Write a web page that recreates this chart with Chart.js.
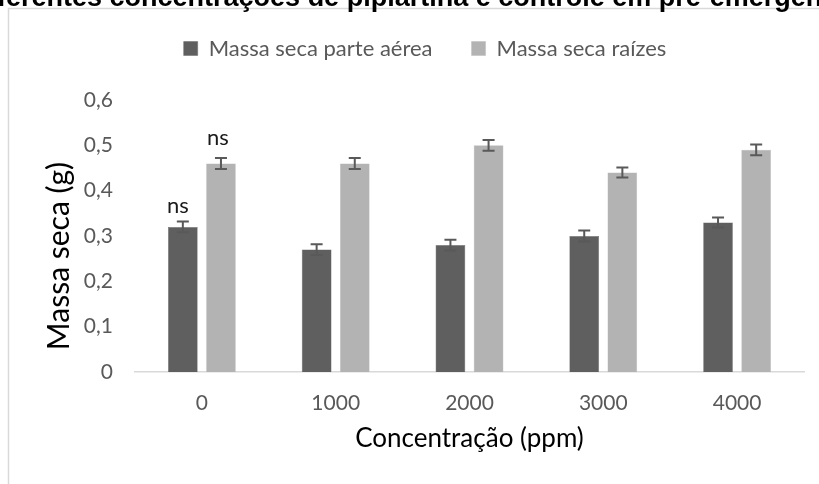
<!DOCTYPE html>
<html>
<head>
<meta charset="utf-8">
<script src="https://cdn.jsdelivr.net/npm/chart.js@4.4.1/dist/chart.umd.min.js"></script>
<style>
  html, body { margin: 0; padding: 0; background: #ffffff; }
  #wrap { width: 819px; height: 484px; position: relative; }
</style>
</head>
<body>
<div id="wrap"><canvas id="chart" width="819" height="484"></canvas></div>
<script>
// Concentrations of piplartine (ppm)
const categories = ['0', '1000', '2000', '3000', '4000'];

// Dry mass (g) of shoots and roots, with standard error
const shootMass = [0.32, 0.27, 0.28, 0.30, 0.33];
const rootMass  = [0.46, 0.46, 0.50, 0.44, 0.49];
const shootErr  = [0.012, 0.012, 0.012, 0.012, 0.011];
const rootErr   = [0.012, 0.012, 0.012, 0.011, 0.012];

// Significance marks above the bars
const shootSig = ['ns', '', '', '', ''];
const rootSig  = ['ns', '', '', '', ''];

const yTickLabels = ['0', '0,1', '0,2', '0,3', '0,4', '0,5', '0,6'];

const seriesNames = ['Massa seca parte aérea', 'Massa seca raízes'];
const chartTitle = 'Massa seca em diferentes concentrações de piplartina e controle em pré-emergência';

const FONT = 'Lato, "Open Sans", sans-serif';
const GREY_TEXT = '#595959';

// Outer frame and the chart title sitting at the very top edge
const framePlugin = {
  id: 'frame',
  beforeDraw(chart) {
    const ctx = chart.ctx;
    ctx.save();
    ctx.fillStyle = '#ffffff';
    ctx.fillRect(0, 0, chart.width, chart.height);
    ctx.strokeStyle = '#d9d9d9';
    ctx.lineWidth = 1.5;
    ctx.beginPath();
    ctx.moveTo(8.5, chart.height);
    ctx.lineTo(8.5, 8.5);
    ctx.lineTo(chart.width, 8.5);
    ctx.stroke();

    ctx.font = 'bold 27px "Liberation Sans", Arial, sans-serif';
    ctx.fillStyle = '#000000';
    ctx.textBaseline = 'alphabetic';
    ctx.textAlign = 'left';
    const lead = ctx.measureText('Massa seca em di').width;
    ctx.fillText(chartTitle, -3 - lead, 6);
    ctx.restore();
  }
};

// Vertical axis title, drawn beside the tick labels
const yTitlePlugin = {
  id: 'yTitle',
  afterDraw(chart) {
    const ctx = chart.ctx;
    const area = chart.chartArea;
    ctx.save();
    ctx.translate(59, (area.top + area.bottom) / 2 + 20);
    ctx.rotate(-Math.PI / 2);
    ctx.font = '30px ' + FONT;
    ctx.fillStyle = '#000000';
    ctx.textAlign = 'center';
    ctx.textBaseline = 'middle';
    ctx.fillText('Massa seca (g)', 0, 0);
    ctx.restore();
  }
};

// Error bars and significance labels for each bar
const errorPlugin = {
  id: 'errorBars',
  afterDatasetsDraw(chart) {
    const ctx = chart.ctx;
    const y = chart.scales.y;
    const errs = [shootErr, rootErr];
    const sigs = [shootSig, rootSig];
    const sigShift = [{dx: -5, dy: 21}, {dx: -3, dy: 26}];
    ctx.save();
    chart.data.datasets.forEach((ds, i) => {
      const meta = chart.getDatasetMeta(i);
      meta.data.forEach((bar, j) => {
        const v = ds.data[j];
        const e = errs[i][j];
        const top = y.getPixelForValue(v + e);
        const bot = y.getPixelForValue(v - e);
        const x = bar.x;
        ctx.strokeStyle = '#595959';
        ctx.lineWidth = 2;
        ctx.beginPath();
        ctx.moveTo(x, top);
        ctx.lineTo(x, bot);
        ctx.moveTo(x - 6, top);
        ctx.lineTo(x + 6, top);
        ctx.moveTo(x - 6, bot);
        ctx.lineTo(x + 6, bot);
        ctx.stroke();

        const s = sigs[i][j];
        if (s) {
          ctx.font = '22px ' + FONT;
          ctx.fillStyle = '#1a1a1a';
          ctx.textAlign = 'center';
          ctx.textBaseline = 'middle';
          ctx.fillText(s, x + sigShift[i].dx, y.getPixelForValue(v) - sigShift[i].dy);
        }
      });
    });
    ctx.restore();
  }
};

// Fixed height for the legend block above the plot
const legendHeightPlugin = {
  id: 'legendHeight',
  beforeLayout(chart) {
    const legend = chart.legend;
    if (legend && !legend._fixedFit) {
      const orig = legend.fit;
      legend.fit = function () {
        orig.call(this);
        this.height = 101.5;
      };
      legend._fixedFit = true;
    }
  }
};

new Chart(document.getElementById('chart'), {
  type: 'bar',
  data: {
    labels: categories,
    datasets: [
      {
        label: seriesNames[0],
        data: shootMass,
        backgroundColor: '#5f5f5f',
        borderColor: '#6a6a6a',
        borderWidth: 0.5,
        categoryPercentage: 0.57,
        barPercentage: 0.78
      },
      {
        label: seriesNames[1],
        data: rootMass,
        backgroundColor: '#b3b3b3',
        borderColor: '#bdbdbd',
        borderWidth: 0.5,
        categoryPercentage: 0.57,
        barPercentage: 0.78
      }
    ]
  },
  options: {
    responsive: false,
    animation: false,
    devicePixelRatio: 1,
    layout: { padding: { left: 46, right: 15, top: -1.5, bottom: 0 } },
    plugins: {
      legend: {
        position: 'top',
        labels: {
          boxWidth: 14,
          boxHeight: 14,
          padding: 39,
          color: GREY_TEXT,
          font: { family: FONT, size: 22 }
        }
      },
      tooltip: { enabled: false },
      title: { display: false }
    },
    scales: {
      x: {
        grid: { display: false, drawTicks: false },
        border: { display: true, color: '#d9d9d9', width: 1.5 },
        ticks: {
          color: GREY_TEXT,
          font: { family: FONT, size: 21 },
          padding: 19
        },
        title: {
          display: true,
          text: 'Concentração (ppm)',
          color: '#000000',
          font: { family: FONT, size: 26 },
          padding: { top: 0, bottom: 30 }
        },
        afterFit(scale) { scale.height = 112; }
      },
      y: {
        min: 0,
        max: 0.6,
        grid: { display: false, drawTicks: false },
        border: { display: false },
        ticks: {
          stepSize: 0.1,
          color: GREY_TEXT,
          font: { family: FONT, size: 21 },
          padding: 22,
          callback: (value, index) => yTickLabels[index]
        },
        afterFit(scale) { scale.width = 89; }
      }
    }
  },
  plugins: [framePlugin, yTitlePlugin, errorPlugin, legendHeightPlugin]
});
</script>
</body>
</html>
